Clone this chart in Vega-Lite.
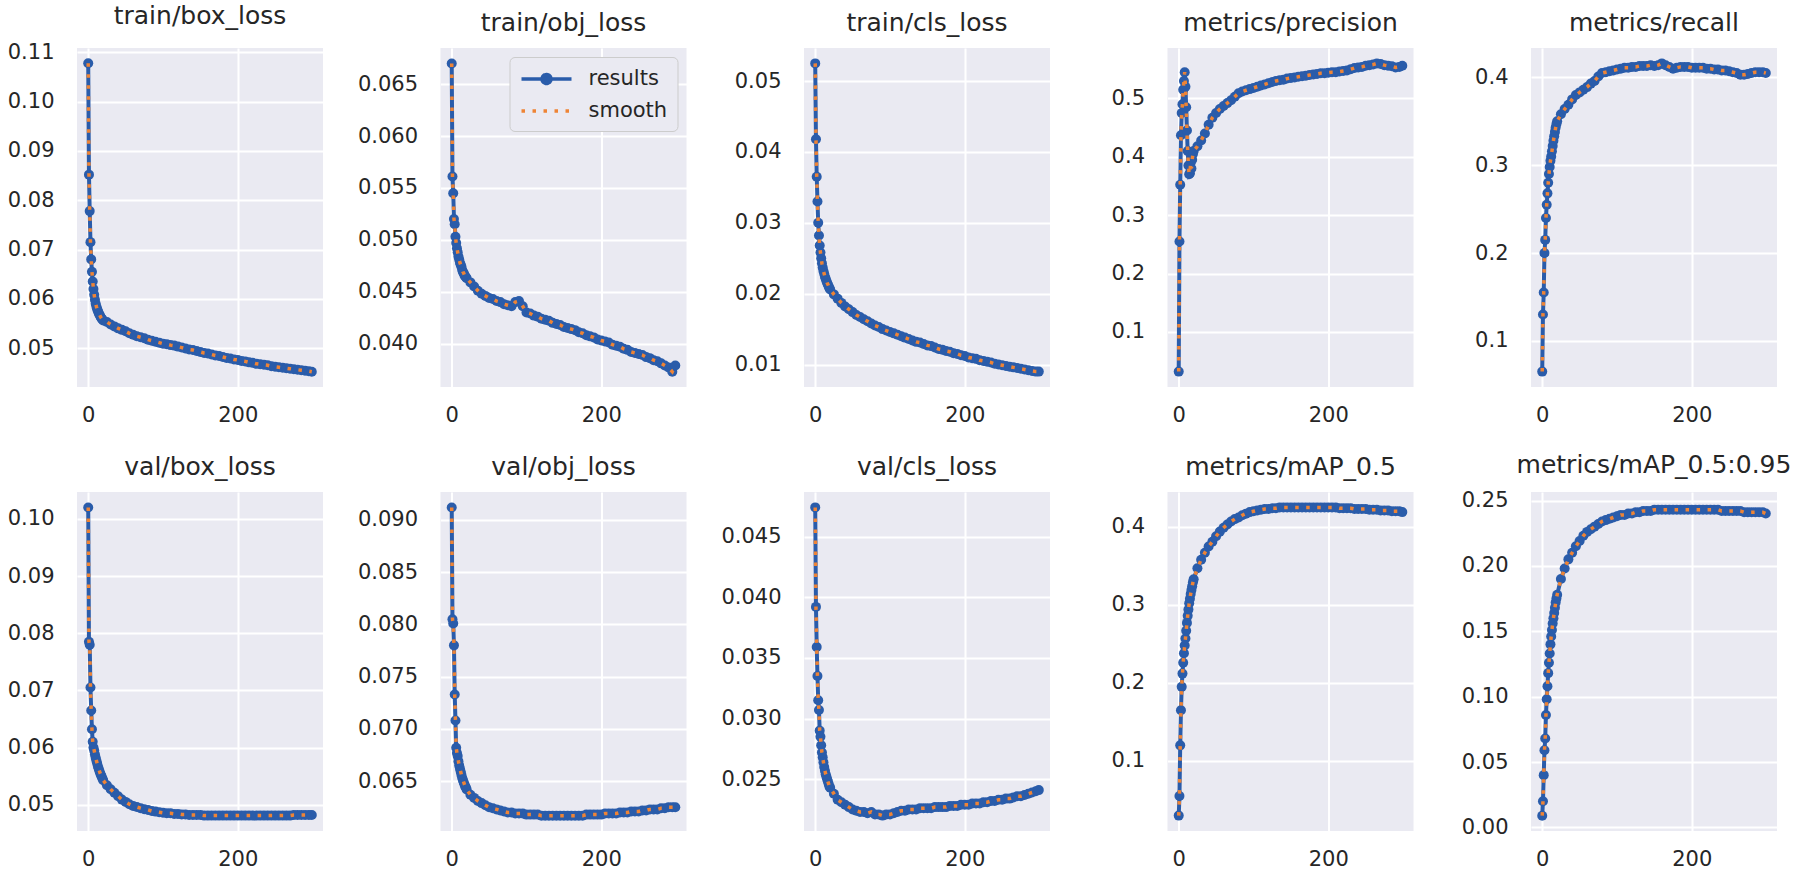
{
"$schema":"https://vega.github.io/schema/vega-lite/v6.json",
"padding":{"left":7,"top":4,"right":22,"bottom":2},
"background":"#FFFFFF",
"config":{
 "font":"DejaVu Sans",
 "view":{"fill":"#EAEAF2","stroke":null},
 "axis":{"domain":false,"ticks":false,"grid":true,"gridColor":"#FFFFFF","gridWidth":2,"labelFont":"DejaVu Sans","labelFontSize":21,"labelColor":"#262626","labelFlush":false,"labelBound":false,"labelOverlap":false},
 "axisY":{"labelPadding":23},
 "axisX":{"labelPadding":17},
 "title":{"font":"DejaVu Sans","fontSize":25,"fontWeight":"normal","color":"#262626","anchor":"middle","offset":12}
},
"data":{"values":[
{"ep":0,"box":0.1078,"obj":0.0670,"cls":0.0525,"precision":0.032,"recall":0.065,"vbox":0.1020,"vobj":0.0912,"vcls":0.0474,"map50":0.030,"map":0.009},
{"ep":1,"box":0.0852,"obj":0.0561,"cls":0.0418,"precision":0.255,"recall":0.130,"vbox":0.0785,"vobj":0.0805,"vcls":0.0392,"map50":0.055,"map":0.020},
{"ep":2,"box":0.0778,"obj":0.0545,"cls":0.0365,"precision":0.352,"recall":0.155,"vbox":0.0780,"vobj":0.0801,"vcls":0.0359,"map50":0.120,"map":0.040},
{"ep":3,"box":0.0715,"obj":0.0520,"cls":0.0330,"precision":0.437,"recall":0.200,"vbox":0.0705,"vobj":0.0780,"vcls":0.0335,"map50":0.165,"map":0.059},
{"ep":4,"box":0.0680,"obj":0.0515,"cls":0.0300,"precision":0.475,"recall":0.215,"vbox":0.0665,"vobj":0.0733,"vcls":0.0315,"map50":0.195,"map":0.068},
{"ep":5,"box":0.0655,"obj":0.0503,"cls":0.0282,"precision":0.490,"recall":0.240,"vbox":0.0632,"vobj":0.0708,"vcls":0.0307,"map50":0.212,"map":0.086},
{"ep":6,"box":0.0635,"obj":0.0497,"cls":0.0268,"precision":0.515,"recall":0.255,"vbox":0.0610,"vobj":0.0682,"vcls":0.0290,"map50":0.226,"map":0.098},
{"ep":7,"box":0.0620,"obj":0.0492,"cls":0.0258,"precision":0.530,"recall":0.268,"vbox":0.0600,"vobj":0.0677,"vcls":0.0285,"map50":0.238,"map":0.108},
{"ep":8,"box":0.0608,"obj":0.0488,"cls":0.0250,"precision":0.545,"recall":0.280,"vbox":0.0595,"vobj":0.0674,"vcls":0.0278,"map50":0.248,"map":0.118},
{"ep":9,"box":0.0598,"obj":0.0484,"cls":0.0243,"precision":0.520,"recall":0.290,"vbox":0.0588,"vobj":0.0669,"vcls":0.0272,"map50":0.257,"map":0.126},
{"ep":10,"box":0.0590,"obj":0.0481,"cls":0.0237,"precision":0.485,"recall":0.298,"vbox":0.0582,"vobj":0.0665,"vcls":0.0268,"map50":0.267,"map":0.133},
{"ep":11,"box":0.0584,"obj":0.0478,"cls":0.0232,"precision":0.445,"recall":0.305,"vbox":0.0577,"vobj":0.0662,"vcls":0.0264,"map50":0.277,"map":0.140},
{"ep":12,"box":0.0579,"obj":0.0476,"cls":0.0228,"precision":0.410,"recall":0.310,"vbox":0.0572,"vobj":0.0659,"vcls":0.0260,"map50":0.286,"map":0.146},
{"ep":13,"box":0.0575,"obj":0.0474,"cls":0.0224,"precision":0.385,"recall":0.316,"vbox":0.0567,"vobj":0.0656,"vcls":0.0257,"map50":0.294,"map":0.151},
{"ep":14,"box":0.0571,"obj":0.0471,"cls":0.0221,"precision":0.370,"recall":0.322,"vbox":0.0563,"vobj":0.0653,"vcls":0.0254,"map50":0.302,"map":0.156},
{"ep":15,"box":0.0568,"obj":0.0469,"cls":0.0218,"precision":0.372,"recall":0.328,"vbox":0.0559,"vobj":0.0651,"vcls":0.0252,"map50":0.308,"map":0.160},
{"ep":16,"box":0.0565,"obj":0.0468,"cls":0.0215,"precision":0.390,"recall":0.333,"vbox":0.0555,"vobj":0.0649,"vcls":0.0250,"map50":0.314,"map":0.164},
{"ep":17,"box":0.0562,"obj":0.0466,"cls":0.0213,"precision":0.380,"recall":0.338,"vbox":0.0552,"vobj":0.0647,"vcls":0.0248,"map50":0.319,"map":0.168},
{"ep":18,"box":0.0560,"obj":0.0465,"cls":0.0210,"precision":0.395,"recall":0.343,"vbox":0.0549,"vobj":0.0645,"vcls":0.0246,"map50":0.324,"map":0.172},
{"ep":19,"box":0.0558,"obj":0.0464,"cls":0.0208,"precision":0.405,"recall":0.347,"vbox":0.0546,"vobj":0.0644,"vcls":0.0244,"map50":0.329,"map":0.175},
{"ep":20,"box":0.0556,"obj":0.0463,"cls":0.0206,"precision":0.410,"recall":0.350,"vbox":0.0543,"vobj":0.0642,"vcls":0.0243,"map50":0.333,"map":0.178},
{"ep":25,"box":0.0553,"obj":0.0459,"cls":0.0199,"precision":0.418,"recall":0.358,"vbox":0.0534,"vobj":0.0637,"vcls":0.0238,"map50":0.347,"map":0.190},
{"ep":30,"box":0.0548,"obj":0.0455,"cls":0.0193,"precision":0.428,"recall":0.364,"vbox":0.0527,"vobj":0.0634,"vcls":0.0233,"map50":0.358,"map":0.198},
{"ep":35,"box":0.0544,"obj":0.0451,"cls":0.0187,"precision":0.440,"recall":0.369,"vbox":0.0521,"vobj":0.0631,"vcls":0.0231,"map50":0.367,"map":0.205},
{"ep":40,"box":0.0540,"obj":0.0448,"cls":0.0182,"precision":0.455,"recall":0.375,"vbox":0.0515,"vobj":0.0629,"vcls":0.0229,"map50":0.375,"map":0.210},
{"ep":45,"box":0.0537,"obj":0.0446,"cls":0.0178,"precision":0.467,"recall":0.380,"vbox":0.0509,"vobj":0.0627,"vcls":0.0227,"map50":0.381,"map":0.215},
{"ep":50,"box":0.0534,"obj":0.0444,"cls":0.0174,"precision":0.475,"recall":0.383,"vbox":0.0505,"vobj":0.0625,"vcls":0.0225,"map50":0.388,"map":0.219},
{"ep":55,"box":0.0530,"obj":0.0443,"cls":0.0170,"precision":0.482,"recall":0.386,"vbox":0.0501,"vobj":0.0624,"vcls":0.0224,"map50":0.394,"map":0.223},
{"ep":60,"box":0.0527,"obj":0.0441,"cls":0.0167,"precision":0.487,"recall":0.389,"vbox":0.0498,"vobj":0.0623,"vcls":0.0223,"map50":0.399,"map":0.226},
{"ep":65,"box":0.0524,"obj":0.0440,"cls":0.0164,"precision":0.492,"recall":0.393,"vbox":0.0496,"vobj":0.0622,"vcls":0.0223,"map50":0.403,"map":0.228},
{"ep":70,"box":0.0522,"obj":0.0438,"cls":0.0161,"precision":0.497,"recall":0.396,"vbox":0.0494,"vobj":0.0621,"vcls":0.0222,"map50":0.407,"map":0.230},
{"ep":75,"box":0.0520,"obj":0.0437,"cls":0.0158,"precision":0.503,"recall":0.401,"vbox":0.0492,"vobj":0.0620,"vcls":0.0223,"map50":0.410,"map":0.232},
{"ep":80,"box":0.0517,"obj":0.0436,"cls":0.0155,"precision":0.509,"recall":0.405,"vbox":0.0491,"vobj":0.0620,"vcls":0.0221,"map50":0.412,"map":0.234},
{"ep":85,"box":0.0515,"obj":0.0440,"cls":0.0153,"precision":0.512,"recall":0.406,"vbox":0.0489,"vobj":0.0619,"vcls":0.0221,"map50":0.415,"map":0.235},
{"ep":90,"box":0.0513,"obj":0.0441,"cls":0.0150,"precision":0.514,"recall":0.407,"vbox":0.0488,"vobj":0.0619,"vcls":0.0220,"map50":0.417,"map":0.236},
{"ep":95,"box":0.0511,"obj":0.0436,"cls":0.0148,"precision":0.516,"recall":0.408,"vbox":0.0487,"vobj":0.0619,"vcls":0.0221,"map50":0.419,"map":0.237},
{"ep":100,"box":0.0509,"obj":0.0430,"cls":0.0146,"precision":0.518,"recall":0.409,"vbox":0.0486,"vobj":0.0618,"vcls":0.0221,"map50":0.420,"map":0.238},
{"ep":105,"box":0.0508,"obj":0.0429,"cls":0.0144,"precision":0.520,"recall":0.410,"vbox":0.0485,"vobj":0.0618,"vcls":0.0222,"map50":0.421,"map":0.239},
{"ep":110,"box":0.0506,"obj":0.0427,"cls":0.0142,"precision":0.522,"recall":0.411,"vbox":0.0485,"vobj":0.0618,"vcls":0.0223,"map50":0.422,"map":0.239},
{"ep":115,"box":0.0505,"obj":0.0426,"cls":0.0140,"precision":0.524,"recall":0.411,"vbox":0.0484,"vobj":0.0618,"vcls":0.0224,"map50":0.423,"map":0.240},
{"ep":120,"box":0.0503,"obj":0.0424,"cls":0.0138,"precision":0.526,"recall":0.412,"vbox":0.0484,"vobj":0.0617,"vcls":0.0224,"map50":0.423,"map":0.240},
{"ep":125,"box":0.0501,"obj":0.0423,"cls":0.0136,"precision":0.528,"recall":0.412,"vbox":0.0483,"vobj":0.0617,"vcls":0.0225,"map50":0.424,"map":0.241},
{"ep":130,"box":0.0499,"obj":0.0422,"cls":0.0134,"precision":0.530,"recall":0.413,"vbox":0.0483,"vobj":0.0617,"vcls":0.0225,"map50":0.424,"map":0.241},
{"ep":135,"box":0.0497,"obj":0.0420,"cls":0.0132,"precision":0.531,"recall":0.413,"vbox":0.0482,"vobj":0.0617,"vcls":0.0225,"map50":0.425,"map":0.242},
{"ep":140,"box":0.0496,"obj":0.0419,"cls":0.0131,"precision":0.532,"recall":0.413,"vbox":0.0482,"vobj":0.0617,"vcls":0.0226,"map50":0.425,"map":0.242},
{"ep":145,"box":0.0494,"obj":0.0418,"cls":0.0129,"precision":0.534,"recall":0.414,"vbox":0.0482,"vobj":0.0617,"vcls":0.0226,"map50":0.425,"map":0.242},
{"ep":150,"box":0.0492,"obj":0.0416,"cls":0.0127,"precision":0.535,"recall":0.413,"vbox":0.0482,"vobj":0.0617,"vcls":0.0226,"map50":0.425,"map":0.243},
{"ep":155,"box":0.0490,"obj":0.0415,"cls":0.0126,"precision":0.536,"recall":0.414,"vbox":0.0481,"vobj":0.0617,"vcls":0.0226,"map50":0.425,"map":0.243},
{"ep":160,"box":0.0489,"obj":0.0414,"cls":0.0124,"precision":0.537,"recall":0.416,"vbox":0.0481,"vobj":0.0617,"vcls":0.0227,"map50":0.425,"map":0.243},
{"ep":165,"box":0.0487,"obj":0.0413,"cls":0.0122,"precision":0.538,"recall":0.414,"vbox":0.0481,"vobj":0.0617,"vcls":0.0227,"map50":0.425,"map":0.243},
{"ep":170,"box":0.0485,"obj":0.0411,"cls":0.0121,"precision":0.539,"recall":0.412,"vbox":0.0481,"vobj":0.0617,"vcls":0.0227,"map50":0.425,"map":0.243},
{"ep":175,"box":0.0484,"obj":0.0410,"cls":0.0119,"precision":0.540,"recall":0.410,"vbox":0.0481,"vobj":0.0617,"vcls":0.0227,"map50":0.425,"map":0.243},
{"ep":180,"box":0.0482,"obj":0.0408,"cls":0.0118,"precision":0.541,"recall":0.411,"vbox":0.0481,"vobj":0.0618,"vcls":0.0228,"map50":0.425,"map":0.243},
{"ep":185,"box":0.0480,"obj":0.0407,"cls":0.0116,"precision":0.542,"recall":0.412,"vbox":0.0481,"vobj":0.0618,"vcls":0.0228,"map50":0.425,"map":0.243},
{"ep":190,"box":0.0479,"obj":0.0406,"cls":0.0115,"precision":0.543,"recall":0.412,"vbox":0.0481,"vobj":0.0618,"vcls":0.0228,"map50":0.425,"map":0.243},
{"ep":195,"box":0.0477,"obj":0.0404,"cls":0.0113,"precision":0.543,"recall":0.412,"vbox":0.0481,"vobj":0.0618,"vcls":0.0229,"map50":0.425,"map":0.243},
{"ep":200,"box":0.0476,"obj":0.0403,"cls":0.0112,"precision":0.544,"recall":0.411,"vbox":0.0481,"vobj":0.0618,"vcls":0.0229,"map50":0.425,"map":0.243},
{"ep":205,"box":0.0474,"obj":0.0402,"cls":0.0110,"precision":0.545,"recall":0.411,"vbox":0.0481,"vobj":0.0619,"vcls":0.0229,"map50":0.425,"map":0.243},
{"ep":210,"box":0.0473,"obj":0.0401,"cls":0.0109,"precision":0.545,"recall":0.411,"vbox":0.0481,"vobj":0.0619,"vcls":0.0230,"map50":0.425,"map":0.243},
{"ep":215,"box":0.0471,"obj":0.0399,"cls":0.0108,"precision":0.546,"recall":0.411,"vbox":0.0481,"vobj":0.0619,"vcls":0.0230,"map50":0.424,"map":0.243},
{"ep":220,"box":0.0470,"obj":0.0398,"cls":0.0106,"precision":0.547,"recall":0.410,"vbox":0.0481,"vobj":0.0619,"vcls":0.0230,"map50":0.424,"map":0.243},
{"ep":225,"box":0.0468,"obj":0.0397,"cls":0.0105,"precision":0.548,"recall":0.410,"vbox":0.0481,"vobj":0.0620,"vcls":0.0231,"map50":0.424,"map":0.243},
{"ep":230,"box":0.0467,"obj":0.0395,"cls":0.0104,"precision":0.550,"recall":0.409,"vbox":0.0481,"vobj":0.0620,"vcls":0.0231,"map50":0.424,"map":0.243},
{"ep":235,"box":0.0466,"obj":0.0394,"cls":0.0103,"precision":0.552,"recall":0.409,"vbox":0.0481,"vobj":0.0620,"vcls":0.0232,"map50":0.423,"map":0.243},
{"ep":240,"box":0.0465,"obj":0.0392,"cls":0.0101,"precision":0.553,"recall":0.408,"vbox":0.0481,"vobj":0.0621,"vcls":0.0232,"map50":0.423,"map":0.242},
{"ep":245,"box":0.0463,"obj":0.0391,"cls":0.0100,"precision":0.554,"recall":0.408,"vbox":0.0481,"vobj":0.0621,"vcls":0.0233,"map50":0.423,"map":0.242},
{"ep":250,"box":0.0462,"obj":0.0390,"cls":0.0099,"precision":0.556,"recall":0.407,"vbox":0.0481,"vobj":0.0621,"vcls":0.0233,"map50":0.423,"map":0.242},
{"ep":255,"box":0.0461,"obj":0.0389,"cls":0.0098,"precision":0.557,"recall":0.406,"vbox":0.0481,"vobj":0.0622,"vcls":0.0234,"map50":0.422,"map":0.242},
{"ep":260,"box":0.0460,"obj":0.0387,"cls":0.0097,"precision":0.558,"recall":0.405,"vbox":0.0481,"vobj":0.0622,"vcls":0.0234,"map50":0.422,"map":0.242},
{"ep":265,"box":0.0459,"obj":0.0386,"cls":0.0096,"precision":0.560,"recall":0.403,"vbox":0.0481,"vobj":0.0623,"vcls":0.0235,"map50":0.422,"map":0.242},
{"ep":270,"box":0.0458,"obj":0.0384,"cls":0.0095,"precision":0.559,"recall":0.403,"vbox":0.0481,"vobj":0.0623,"vcls":0.0236,"map50":0.421,"map":0.241},
{"ep":275,"box":0.0457,"obj":0.0383,"cls":0.0094,"precision":0.557,"recall":0.404,"vbox":0.0482,"vobj":0.0623,"vcls":0.0236,"map50":0.421,"map":0.241},
{"ep":280,"box":0.0456,"obj":0.0381,"cls":0.0093,"precision":0.556,"recall":0.405,"vbox":0.0482,"vobj":0.0624,"vcls":0.0237,"map50":0.421,"map":0.241},
{"ep":285,"box":0.0455,"obj":0.0379,"cls":0.0092,"precision":0.555,"recall":0.406,"vbox":0.0482,"vobj":0.0624,"vcls":0.0238,"map50":0.420,"map":0.241},
{"ep":290,"box":0.0454,"obj":0.0377,"cls":0.0091,"precision":0.553,"recall":0.406,"vbox":0.0482,"vobj":0.0625,"vcls":0.0239,"map50":0.420,"map":0.241},
{"ep":295,"box":0.0453,"obj":0.0373,"cls":0.0090,"precision":0.554,"recall":0.406,"vbox":0.0482,"vobj":0.0625,"vcls":0.0240,"map50":0.420,"map":0.241},
{"ep":299,"box":0.0452,"obj":0.0379,"cls":0.0090,"precision":0.556,"recall":0.405,"vbox":0.0482,"vobj":0.0625,"vcls":0.0241,"map50":0.419,"map":0.240}
]},
"columns":5,
"spacing":{"row":105,"column":117.5},
"bounds":"flush",
"resolve":{"scale":{"color":"independent"},"legend":{"color":"independent"}},
"concat":[
{"title":"train/box_loss","width":246,"height":339,
 "encoding":{"x":{"field":"ep","type":"quantitative","scale":{"domain":[-15,314],"nice":false},"axis":{"values":[0,200],"format":"d","title":null}},
  "y":{"field":"box","type":"quantitative","scale":{"domain":[0.0421,0.1109],"nice":false,"zero":false},"axis":{"values":[0.05,0.06,0.07,0.08,0.09,0.10,0.11],"format":".2f","title":null}}},
 "layer":[
  {"mark":{"type":"line","color":"#2A5CAA","strokeWidth":4},"encoding":{}},
  {"mark":{"type":"point","filled":true,"size":100,"color":"#2A5CAA","opacity":1},"encoding":{}},
  {"mark":{"type":"line","color":"#EE8436","strokeWidth":3.5,"strokeDash":[3.5,7.5]},"encoding":{}}]},
{"title":"train/obj_loss","width":246,"height":339,
 "encoding":{"x":{"field":"ep","type":"quantitative","scale":{"domain":[-15,314],"nice":false},"axis":{"values":[0,200],"format":"d","title":null}},
  "y":{"field":"obj","type":"quantitative","scale":{"domain":[0.03582,0.06849],"nice":false,"zero":false},"axis":{"values":[0.040,0.045,0.050,0.055,0.060,0.065],"format":".3f","title":null}}},
 "layer":[
  {"mark":{"type":"line","strokeWidth":4},"encoding":{"color":{"datum":"results","scale":{"domain":["results","smooth"],"range":["#2A5CAA","#EE8436"]},
    "legend":{"orient":"top-right","offset":9,"title":null,"fillColor":"#EAEAF2","strokeColor":"#CCCCCC","cornerRadius":5,"padding":10,"labelFont":"DejaVu Sans","labelFontSize":21,"labelColor":"#262626","symbolSize":400,"symbolOffset":15,"labelOffset":30,"rowPadding":8,
     "encode":{"symbols":{"update":{
      "shape":{"signal":"datum.value === 'smooth' ? 'M-2.5,0H2.5' : 'M-2.5,0H2.5M-0.45,0A0.45,0.45,0,1,1,0.45,0A0.45,0.45,0,1,1,-0.45,0Z'"},
      "fill":{"signal":"datum.value === 'smooth' ? 'transparent' : '#2A5CAA'"},
      "fillOpacity":{"value":1},
      "stroke":{"signal":"datum.value === 'smooth' ? '#EE8436' : '#2A5CAA'"},
      "strokeDash":{"signal":"datum.value === 'smooth' ? [3.5,7.5] : [1,0]"},
      "strokeWidth":{"value":3.5},
      "opacity":{"value":1}}}}}}}},
  {"mark":{"type":"point","filled":true,"size":100,"opacity":1},"encoding":{"color":{"datum":"results"}}},
  {"mark":{"type":"line","strokeWidth":3.5,"strokeDash":[3.5,7.5]},"encoding":{"color":{"datum":"smooth"}}}]},
{"title":"train/cls_loss","width":246,"height":339,
 "encoding":{"x":{"field":"ep","type":"quantitative","scale":{"domain":[-15,314],"nice":false},"axis":{"values":[0,200],"format":"d","title":null}},
  "y":{"field":"cls","type":"quantitative","scale":{"domain":[0.00683,0.05467],"nice":false,"zero":false},"axis":{"values":[0.01,0.02,0.03,0.04,0.05],"format":".2f","title":null}}},
 "layer":[
  {"mark":{"type":"line","color":"#2A5CAA","strokeWidth":4},"encoding":{}},
  {"mark":{"type":"point","filled":true,"size":100,"color":"#2A5CAA","opacity":1},"encoding":{}},
  {"mark":{"type":"line","color":"#EE8436","strokeWidth":3.5,"strokeDash":[3.5,7.5]},"encoding":{}}]},
{"title":"metrics/precision","width":246,"height":339,
 "encoding":{"x":{"field":"ep","type":"quantitative","scale":{"domain":[-15,314],"nice":false},"axis":{"values":[0,200],"format":"d","title":null}},
  "y":{"field":"precision","type":"quantitative","scale":{"domain":[0.0056,0.5864],"nice":false,"zero":false},"axis":{"values":[0.1,0.2,0.3,0.4,0.5],"format":".1f","title":null}}},
 "layer":[
  {"mark":{"type":"line","color":"#2A5CAA","strokeWidth":4},"encoding":{}},
  {"mark":{"type":"point","filled":true,"size":100,"color":"#2A5CAA","opacity":1},"encoding":{}},
  {"mark":{"type":"line","color":"#EE8436","strokeWidth":3.5,"strokeDash":[3.5,7.5]},"encoding":{}}]},
{"title":"metrics/recall","width":246,"height":339,
 "encoding":{"x":{"field":"ep","type":"quantitative","scale":{"domain":[-15,314],"nice":false},"axis":{"values":[0,200],"format":"d","title":null}},
  "y":{"field":"recall","type":"quantitative","scale":{"domain":[0.04745,0.43355],"nice":false,"zero":false},"axis":{"values":[0.1,0.2,0.3,0.4],"format":".1f","title":null}}},
 "layer":[
  {"mark":{"type":"line","color":"#2A5CAA","strokeWidth":4},"encoding":{}},
  {"mark":{"type":"point","filled":true,"size":100,"color":"#2A5CAA","opacity":1},"encoding":{}},
  {"mark":{"type":"line","color":"#EE8436","strokeWidth":3.5,"strokeDash":[3.5,7.5]},"encoding":{}}]},
{"title":"val/box_loss","width":246,"height":339,
 "encoding":{"x":{"field":"ep","type":"quantitative","scale":{"domain":[-15,314],"nice":false},"axis":{"values":[0,200],"format":"d","title":null}},
  "y":{"field":"vbox","type":"quantitative","scale":{"domain":[0.04541,0.1047],"nice":false,"zero":false},"axis":{"values":[0.05,0.06,0.07,0.08,0.09,0.10],"format":".2f","title":null}}},
 "layer":[
  {"mark":{"type":"line","color":"#2A5CAA","strokeWidth":4},"encoding":{}},
  {"mark":{"type":"point","filled":true,"size":100,"color":"#2A5CAA","opacity":1},"encoding":{}},
  {"mark":{"type":"line","color":"#EE8436","strokeWidth":3.5,"strokeDash":[3.5,7.5]},"encoding":{}}]},
{"title":"val/obj_loss","width":246,"height":339,
 "encoding":{"x":{"field":"ep","type":"quantitative","scale":{"domain":[-15,314],"nice":false},"axis":{"values":[0,200],"format":"d","title":null}},
  "y":{"field":"vobj","type":"quantitative","scale":{"domain":[0.06023,0.09268],"nice":false,"zero":false},"axis":{"values":[0.065,0.070,0.075,0.080,0.085,0.090],"format":".3f","title":null}}},
 "layer":[
  {"mark":{"type":"line","color":"#2A5CAA","strokeWidth":4},"encoding":{}},
  {"mark":{"type":"point","filled":true,"size":100,"color":"#2A5CAA","opacity":1},"encoding":{}},
  {"mark":{"type":"line","color":"#EE8436","strokeWidth":3.5,"strokeDash":[3.5,7.5]},"encoding":{}}]},
{"title":"val/cls_loss","width":246,"height":339,
 "encoding":{"x":{"field":"ep","type":"quantitative","scale":{"domain":[-15,314],"nice":false},"axis":{"values":[0,200],"format":"d","title":null}},
  "y":{"field":"vcls","type":"quantitative","scale":{"domain":[0.02073,0.04867],"nice":false,"zero":false},"axis":{"values":[0.025,0.030,0.035,0.040,0.045],"format":".3f","title":null}}},
 "layer":[
  {"mark":{"type":"line","color":"#2A5CAA","strokeWidth":4},"encoding":{}},
  {"mark":{"type":"point","filled":true,"size":100,"color":"#2A5CAA","opacity":1},"encoding":{}},
  {"mark":{"type":"line","color":"#EE8436","strokeWidth":3.5,"strokeDash":[3.5,7.5]},"encoding":{}}]},
{"title":"metrics/mAP_0.5","width":246,"height":339,
 "encoding":{"x":{"field":"ep","type":"quantitative","scale":{"domain":[-15,314],"nice":false},"axis":{"values":[0,200],"format":"d","title":null}},
  "y":{"field":"map50","type":"quantitative","scale":{"domain":[0.01025,0.44475],"nice":false,"zero":false},"axis":{"values":[0.1,0.2,0.3,0.4],"format":".1f","title":null}}},
 "layer":[
  {"mark":{"type":"line","color":"#2A5CAA","strokeWidth":4},"encoding":{}},
  {"mark":{"type":"point","filled":true,"size":100,"color":"#2A5CAA","opacity":1},"encoding":{}},
  {"mark":{"type":"line","color":"#EE8436","strokeWidth":3.5,"strokeDash":[3.5,7.5]},"encoding":{}}]},
{"title":"metrics/mAP_0.5:0.95","width":246,"height":339,
 "encoding":{"x":{"field":"ep","type":"quantitative","scale":{"domain":[-15,314],"nice":false},"axis":{"values":[0,200],"format":"d","title":null}},
  "y":{"field":"map","type":"quantitative","scale":{"domain":[-0.0027,0.2565],"nice":false,"zero":false},"axis":{"values":[0,0.05,0.10,0.15,0.20,0.25],"format":".2f","title":null}}},
 "layer":[
  {"mark":{"type":"line","color":"#2A5CAA","strokeWidth":4},"encoding":{}},
  {"mark":{"type":"point","filled":true,"size":100,"color":"#2A5CAA","opacity":1},"encoding":{}},
  {"mark":{"type":"line","color":"#EE8436","strokeWidth":3.5,"strokeDash":[3.5,7.5]},"encoding":{}}]}
]
}
